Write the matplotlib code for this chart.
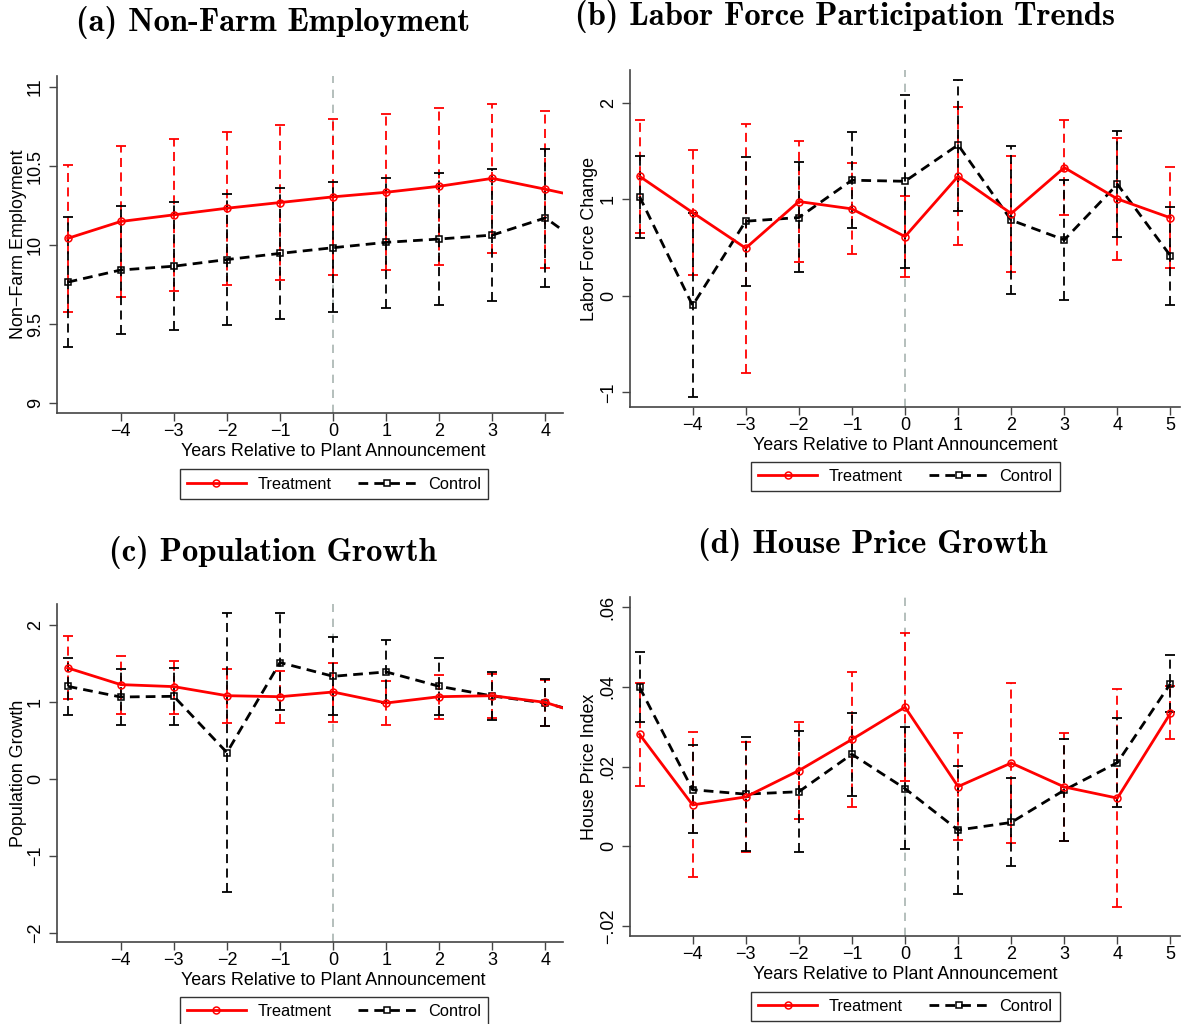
import numpy as np
import matplotlib.pyplot as plt

plt.rcParams['font.family'] = ['Liberation Sans', 'DejaVu Sans']

# event time
years_a = [-5, -4, -3, -2, -1, 0, 1, 2, 3, 4, 5]
years_b = [-5, -4, -3, -2, -1, 0, 1, 2, 3, 4, 5]

# (a) non-farm employment
emp_treat = [10.042, 10.149, 10.191, 10.233, 10.269, 10.305, 10.334, 10.372, 10.422, 10.353, 10.28]
emp_treat_hi = [10.504, 10.628, 10.670, 10.716, 10.761, 10.796, 10.830, 10.866, 10.893, 10.847, 10.80]
emp_treat_lo = [9.576, 9.668, 9.712, 9.746, 9.779, 9.813, 9.840, 9.874, 9.947, 9.857, 9.76]
emp_ctrl = [9.765, 9.842, 9.866, 9.908, 9.947, 9.983, 10.017, 10.038, 10.063, 10.172, 9.93]
emp_ctrl_hi = [10.176, 10.248, 10.275, 10.321, 10.359, 10.397, 10.426, 10.456, 10.483, 10.607, 10.35]
emp_ctrl_lo = [9.355, 9.435, 9.460, 9.496, 9.534, 9.574, 9.601, 9.620, 9.645, 9.733, 9.51]

# (b) labor force change
lfp_treat = [1.239, 0.863, 0.494, 0.977, 0.901, 0.614, 1.239, 0.853, 1.329, 1.004, 0.808]
lfp_treat_hi = [1.819, 1.508, 1.785, 1.602, 1.374, 1.039, 1.954, 1.453, 1.819, 1.636, 1.332]
lfp_treat_lo = [0.652, 0.211, -0.797, 0.349, 0.431, 0.190, 0.528, 0.245, 0.835, 0.366, 0.287]
lfp_ctrl = [1.029, -0.100, 0.773, 0.811, 1.198, 1.187, 1.564, 0.784, 0.580, 1.156, 0.414]
lfp_ctrl_hi = [1.453, 0.860, 1.443, 1.388, 1.695, 2.081, 2.240, 1.550, 1.205, 1.709, 0.918]
lfp_ctrl_lo = [0.604, -1.049, 0.104, 0.245, 0.701, 0.287, 0.880, 0.021, -0.041, 0.608, -0.093]

# (c) population growth
pop_treat = [1.439, 1.222, 1.196, 1.078, 1.065, 1.126, 0.983, 1.065, 1.078, 0.991, 0.77]
pop_treat_hi = [1.848, 1.600, 1.530, 1.422, 1.400, 1.509, 1.270, 1.343, 1.365, 1.28, 1.10]
pop_treat_lo = [1.030, 0.835, 0.843, 0.726, 0.726, 0.739, 0.691, 0.778, 0.783, 0.687, 0.45]
pop_ctrl = [1.200, 1.061, 1.070, 0.339, 1.509, 1.330, 1.387, 1.200, 1.074, 0.983, 0.80]
pop_ctrl_hi = [1.574, 1.430, 1.443, 2.148, 2.148, 1.835, 1.796, 1.574, 1.387, 1.291, 1.10]
pop_ctrl_lo = [0.830, 0.691, 0.691, -1.470, 0.887, 0.826, 0.983, 0.822, 0.761, 0.683, 0.50]

# (d) house price growth
hpi_treat = [0.0281, 0.0104, 0.0124, 0.0190, 0.0268, 0.0349, 0.0150, 0.0209, 0.0149, 0.0121, 0.0334]
hpi_treat_hi = [0.0410, 0.0286, 0.0261, 0.0313, 0.0438, 0.0534, 0.0284, 0.0410, 0.0284, 0.0394, 0.0401]
hpi_treat_lo = [0.0151, -0.0077, -0.0014, 0.0069, 0.0099, 0.0163, 0.0015, 0.0008, 0.0014, -0.0152, 0.0268]
hpi_ctrl = [0.0399, 0.0142, 0.0131, 0.0137, 0.0231, 0.0145, 0.0041, 0.0060, 0.0141, 0.0210, 0.0408]
hpi_ctrl_hi = [0.0486, 0.0253, 0.0274, 0.0289, 0.0335, 0.0299, 0.0201, 0.0172, 0.0270, 0.0322, 0.0479]
hpi_ctrl_lo = [0.0312, 0.0033, -0.0011, -0.0014, 0.0126, -0.0007, -0.0119, -0.0049, 0.0014, 0.0099, 0.0337]

RED = '#ff0000'
BLACK = '#000000'


def draw_panel(ax, x, tr, tr_hi, tr_lo, ct, ct_hi, ct_lo):
    x = np.array(x)
    ax.axvline(0, color='#a8b4b0', ls=(0, (5, 4)), lw=1.2, zorder=0)
    for y, hi, lo, col in [(tr, tr_hi, tr_lo, RED), (ct, ct_hi, ct_lo, BLACK)]:
        y, hi, lo = np.array(y), np.array(hi), np.array(lo)
        eb = ax.errorbar(x, y, yerr=[y - lo, hi - y], fmt='none', ecolor=col,
                         elinewidth=1.3, capsize=3.5, capthick=1.3, zorder=2)
        eb[2][0].set_linestyle((0, (5, 3)))
    ax.plot(x, ct, color=BLACK, lw=2, dashes=(3.5, 2.2), marker='s', ms=5,
            mfc='none', mec=BLACK, mew=1.1, zorder=3, label='Control')
    ax.plot(x, tr, color=RED, lw=2, marker='o', ms=5, mfc='none', mec=RED,
            mew=1.1, zorder=4, label='Treatment')

    for s in ['top', 'right']:
        ax.spines[s].set_visible(False)
    for s in ['left', 'bottom']:
        ax.spines[s].set_color('#444444')
        ax.spines[s].set_linewidth(1.2)
    ax.tick_params(direction='out', length=6, width=1, color='#444444',
                   labelsize=13)
    ax.tick_params(axis='x', pad=1.5)
    ax.tick_params(axis='y', labelrotation=90)
    ax.set_xlabel('Years Relative to Plant Announcement', fontsize=12.9)
    ax.xaxis.label.set_va('center')


def set_xaxis(ax, lo, hi, last):
    ax.set_xlim(lo, hi)
    ticks = list(range(-4, last + 1))
    ax.set_xticks(ticks)
    ax.set_xticklabels(['\u2212%d' % -v if v < 0 else str(v) for v in ticks])
    # axis title sits under the announcement year
    ax.xaxis.set_label_coords((0 - lo) / (hi - lo), -0.114)


def set_ylabel(ax, text, xpos):
    ax.set_ylabel(text, fontsize=12.9)
    ax.yaxis.label.set_va('center')
    ax.yaxis.set_label_coords(xpos, 0.5)


fig = plt.figure(figsize=(11.83, 10.24), dpi=100)

pos = {
    'a': [0.0482, 0.5967, 0.4277, 0.3291],
    'b': [0.5325, 0.6025, 0.4650, 0.3291],
    'c': [0.0482, 0.0801, 0.4277, 0.3301],
    'd': [0.5325, 0.0859, 0.4650, 0.3311],
}

ax_a = fig.add_axes(pos['a'])
draw_panel(ax_a, years_a, emp_treat, emp_treat_hi, emp_treat_lo,
           emp_ctrl, emp_ctrl_hi, emp_ctrl_lo)
set_xaxis(ax_a, -5.2, 4.33, 4)
ax_a.set_ylim(8.937, 11.07)
ax_a.set_yticks([9, 9.5, 10, 10.5, 11])
ax_a.set_yticklabels(['9', '9.5', '10', '10.5', '11'], va='center')
set_ylabel(ax_a, 'Non\u2212Farm Employment', -0.077)

ax_b = fig.add_axes(pos['b'])
draw_panel(ax_b, years_b, lfp_treat, lfp_treat_hi, lfp_treat_lo,
           lfp_ctrl, lfp_ctrl_hi, lfp_ctrl_lo)
set_xaxis(ax_b, -5.18, 5.18, 5)
ax_b.set_ylim(-1.153, 2.34)
ax_b.set_yticks([-1, 0, 1, 2])
ax_b.set_yticklabels(['\u22121', '0', '1', '2'], va='center')
set_ylabel(ax_b, 'Labor Force Change', -0.073)

ax_c = fig.add_axes(pos['c'])
draw_panel(ax_c, years_a, pop_treat, pop_treat_hi, pop_treat_lo,
           pop_ctrl, pop_ctrl_hi, pop_ctrl_lo)
set_xaxis(ax_c, -5.2, 4.33, 4)
ax_c.set_ylim(-2.122, 2.27)
ax_c.set_yticks([-2, -1, 0, 1, 2])
ax_c.set_yticklabels(['\u22122', '\u22121', '0', '1', '2'], va='center')
set_ylabel(ax_c, 'Population Growth', -0.077)

ax_d = fig.add_axes(pos['d'])
draw_panel(ax_d, years_b, hpi_treat, hpi_treat_hi, hpi_treat_lo,
           hpi_ctrl, hpi_ctrl_hi, hpi_ctrl_lo)
set_xaxis(ax_d, -5.18, 5.18, 5)
ax_d.set_ylim(-0.02246, 0.0625)
ax_d.set_yticks([-0.02, 0, 0.02, 0.04, 0.06])
ax_d.set_yticklabels(['\u2212.02', '0', '.02', '.04', '.06'], va='center')
set_ylabel(ax_d, 'House Price Index', -0.073)

titles = [
    ('(a) Non-Farm Employment', 0.2308, 0.9785),
    ('(b) Labor Force Participation Trends', 0.7143, 0.9834),
    ('(c) Population Growth', 0.2308, 0.4609),
    ('(d) House Price Growth', 0.7380, 0.4678),
]
for t, x, y in titles:
    fig.text(x, y, t, ha='center', va='center', fontsize=23.5,
             family=['cmb10', 'DejaVu Serif'])

legend_pos = [(ax_a, 0.2823, 0.5273), (ax_b, 0.7654, 0.5347),
              (ax_c, 0.2823, 0.0122), (ax_d, 0.7654, 0.0171)]
for ax, x, y in legend_pos:
    h, l = ax.get_legend_handles_labels()
    leg = ax.legend(h[::-1], l[::-1], loc='center', bbox_to_anchor=(x, y),
                    bbox_transform=fig.transFigure, ncol=2, fontsize=11.8,
                    frameon=True, fancybox=False, edgecolor='black',
                    handlelength=3.6, handletextpad=0.7, columnspacing=1.6,
                    borderpad=0.45, borderaxespad=0)
    leg.get_frame().set_linewidth(1.0)

fig.savefig('out.png', dpi=100)
